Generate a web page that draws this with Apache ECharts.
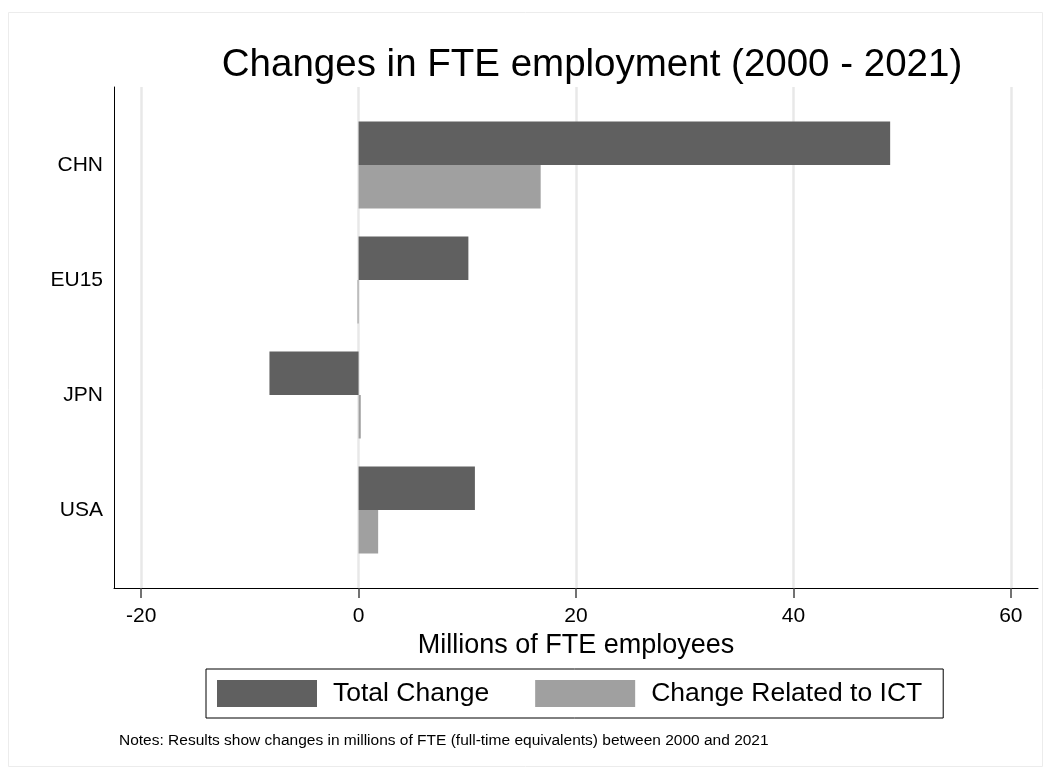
<!DOCTYPE html>
<html>
<head>
<meta charset="utf-8">
<script src="https://cdn.jsdelivr.net/npm/echarts@6/dist/echarts.min.js"></script>
<style>
  html, body { margin: 0; padding: 0; background: #fff; }
  #chart { width: 1051px; height: 774px; }
</style>
</head>
<body>
<div id="chart"></div>
<script>
// Countries, top to bottom
const countries = ['CHN', 'EU15', 'JPN', 'USA'];
// Millions of FTE employees, 2000-2021
const totalChange = [48.9, 10.1, -8.2, 10.7];
const ictChange = [16.75, -0.1, 0.2, 1.8];
// Value-axis tick labels
const xTicks = [-20, 0, 20, 40, 60];

const FONT = 'Liberation Sans, Arial, Helvetica, sans-serif';
const DARK = '#606060';
const LIGHT = '#a0a0a0';
const X_MIN = -22.5, X_MAX = 62.5;

const chart = echarts.init(document.getElementById('chart'), null, { renderer: 'canvas' });

chart.setOption({
  backgroundColor: '#ffffff',
  animation: false,
  textStyle: { fontFamily: FONT },
  title: {
    text: 'Changes in FTE employment (2000 - 2021)',
    left: 587,
    textAlign: 'center',
    top: 41,
    textStyle: { fontFamily: FONT, fontSize: 38.5, fontWeight: 'normal', color: '#000' }
  },
  graphic: [
    {
      type: 'rect', silent: true, z: -1,
      shape: { x: 8.5, y: 12.5, width: 1034, height: 754 },
      style: { fill: 'none', stroke: '#ececec', lineWidth: 1 }
    },
    {
      type: 'text', left: 119, top: 733,
      style: {
        text: 'Notes: Results show changes in millions of FTE (full-time equivalents) between 2000 and 2021',
        font: '15.5px ' + FONT, fill: '#000'
      }
    }
  ],
  legend: {
    data: ['Total Change', 'Change Related to ICT'],
    left: 206, top: 669,
    orient: 'horizontal',
    itemWidth: 100, itemHeight: 27, itemGap: 46,
    icon: 'rect',
    padding: [11, 21, 11, 11],
    borderColor: '#000', borderWidth: 1,
    textStyle: { fontFamily: FONT, fontSize: 26.5, color: '#000', padding: [0, 0, 0, 11] }
  },
  grid: [
    // frame: axis lines, ticks, grid lines
    { left: 114, right: 13, top: 87, bottom: 186 },
    // bars
    { left: 114, right: 13, top: 107.5, bottom: 206.5 }
  ],
  xAxis: [
    {
      type: 'value', gridIndex: 0, min: X_MIN, max: X_MAX,
      axisLine: { show: true, onZero: false, lineStyle: { color: '#000', width: 1 } },
      axisTick: { show: true, customValues: xTicks, length: 10, lineStyle: { color: '#444', width: 1.5 } },
      axisLabel: { customValues: xTicks, margin: 18, fontSize: 21, color: '#000', fontFamily: FONT },
      splitLine: { show: true, lineStyle: { color: '#e8e8e8', width: 2.5 } },
      name: 'Millions of FTE employees',
      nameLocation: 'middle',
      nameGap: 39,
      nameTextStyle: { fontSize: 27, color: '#000', fontFamily: FONT }
    },
    {
      type: 'value', gridIndex: 1, min: X_MIN, max: X_MAX,
      show: false, splitLine: { show: false }
    }
  ],
  yAxis: [
    {
      type: 'value', gridIndex: 0, min: 0, max: 1,
      axisLine: { show: true, onZero: false, lineStyle: { color: '#000', width: 1 } },
      axisTick: { show: false }, axisLabel: { show: false }, splitLine: { show: false }
    },
    {
      type: 'category', gridIndex: 1, data: countries, inverse: true,
      axisLine: { show: false }, axisTick: { show: false },
      axisLabel: { margin: 11, fontSize: 21, color: '#000', fontFamily: FONT },
      splitLine: { show: false }
    }
  ],
  series: [
    {
      name: 'Total Change', type: 'bar', xAxisIndex: 1, yAxisIndex: 1,
      data: totalChange, barWidth: 43.5, barGap: '0%',
      itemStyle: { color: DARK }
    },
    {
      name: 'Change Related to ICT', type: 'bar', xAxisIndex: 1, yAxisIndex: 1,
      data: ictChange, barWidth: 43.5, barGap: '0%',
      itemStyle: { color: LIGHT }
    }
  ]
});
</script>
</body>
</html>
